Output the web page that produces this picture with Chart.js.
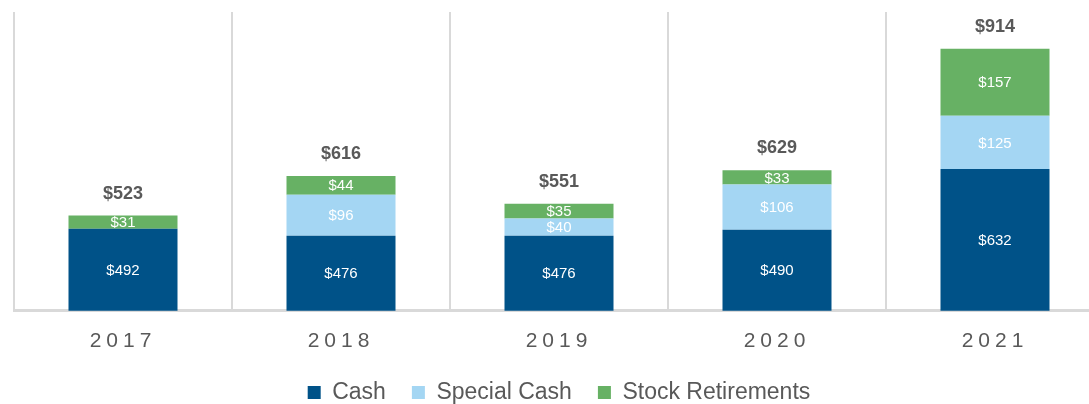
<!DOCTYPE html>
<html>
<head>
<meta charset="utf-8">
<script src="https://cdn.jsdelivr.net/npm/chart.js@4.4.1/dist/chart.umd.min.js"></script>
<style>
  html, body { margin: 0; padding: 0; background: #ffffff; overflow: hidden; }
  #wrap { position: relative; width: 1104px; height: 404px; }
</style>
</head>
<body>
<div id="wrap"><canvas id="payoutChart"></canvas></div>
<script>
const years = ['2017', '2018', '2019', '2020', '2021']
const cash = [492, 476, 476, 490, 632]
const specialCash = [null, 96, 40, 106, 125]
const stockRetirements = [31, 44, 35, 33, 157]

const FONT = "'Liberation Sans', Arial, sans-serif"
const GREY = '#595959'

// values inside each segment + total above each stack
const labelPlugin = {
  id: 'stackLabels',
  afterDatasetsDraw(chart) {
    const ctx = chart.ctx
    const area = chart.chartArea
    ctx.save()
    ctx.textAlign = 'center'
    ctx.textBaseline = 'middle'
    ctx.font = `15px ${FONT}`
    ctx.fillStyle = '#ffffff'
    chart.data.datasets.forEach((ds, di) => {
      const meta = chart.getDatasetMeta(di)
      meta.data.forEach((bar, i) => {
        const v = ds.data[i]
        if (v == null) return
        const base = Math.min(bar.base, area.bottom)
        ctx.fillText('$' + v, bar.x, (bar.y + base) / 2 + 1)
      })
    })
    ctx.font = `bold 18px ${FONT}`
    ctx.fillStyle = GREY
    const lastMeta = chart.getDatasetMeta(chart.data.datasets.length - 1)
    years.forEach((y, i) => {
      const total = cash[i] + (specialCash[i] || 0) + stockRetirements[i]
      ctx.fillText('$' + total, lastMeta.data[i].x, lastMeta.data[i].y - 22)
    })
    ctx.restore()
    // the year ticks are drawn after this hook (ticks.z = 1), spaced out
    ctx.letterSpacing = '5px'
  },
  afterDraw(chart) {
    chart.ctx.letterSpacing = '0px'
  }
}

const ctx = document.getElementById('payoutChart').getContext('2d')

new Chart(ctx, {
  type: 'bar',
  data: {
    labels: years,
    datasets: [
      { label: 'Cash', data: cash, backgroundColor: '#005288' },
      { label: 'Special Cash', data: specialCash, backgroundColor: '#a4d6f3' },
      { label: 'Stock Retirements', data: stockRetirements, backgroundColor: '#67b164' }
    ]
  },
  options: {
    responsive: true,
    maintainAspectRatio: false,
    animation: false,
    layout: {
      padding: { left: 14, top: 12, right: 0, bottom: -10 }
    },
    datasets: {
      bar: { barPercentage: 0.5, categoryPercentage: 1.0 }
    },
    plugins: {
      legend: {
        position: 'bottom',
        labels: {
          color: GREY,
          boxWidth: 13,
          boxHeight: 13,
          padding: 26,
          font: { family: FONT, size: 23 }
        }
      },
      tooltip: { enabled: false }
    },
    scales: {
      x: {
        stacked: true,
        grid: {
          offset: true,
          color: '#d9d9d9',
          lineWidth: 2,
          drawTicks: false
        },
        border: { display: true, color: '#d9d9d9', width: 3 },
        ticks: {
          z: 1,
          color: GREY,
          padding: 18,
          font: { family: FONT, size: 21 }
        },
        afterFit: (scale) => { scale.height -= 17 }
      },
      y: {
        stacked: true,
        display: false,
        min: 300,
        max: 1000
      }
    }
  },
  plugins: [labelPlugin]
})
</script>
</body>
</html>
